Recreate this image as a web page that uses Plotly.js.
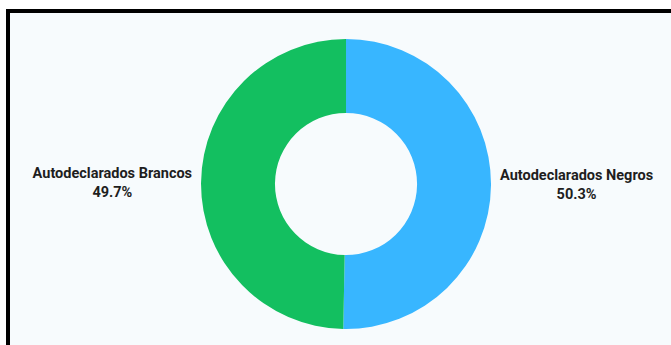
<!DOCTYPE html>
<html>
<head>
<meta charset="utf-8">
<script src="https://cdn.plot.ly/plotly-3.0.1.min.js"></script>
<style>
  html, body { margin: 0; padding: 0; background: #ffffff; width: 671px; height: 345px; overflow: hidden; }
  #frame { position: absolute; left: 6px; top: 9px; width: 665px; height: 336px;
           border-top: 4px solid #000; border-left: 4px solid #000; box-sizing: border-box;
           background: #f7fbfd; }
  #chart { position: absolute; left: 0; top: 0; width: 661px; height: 332px; }
</style>
</head>
<body>
<div id="frame"><div id="chart"></div></div>
<script>
const categories = ["Autodeclarados Negros", "Autodeclarados Brancos"];
const values = [50.3, 49.7];
const colors = ["#38b6ff", "#13bf60"];

const trace = {
  type: "pie",
  labels: categories,
  values: values,
  hole: 0.49,
  sort: false,
  direction: "clockwise",
  rotation: 0,
  marker: { colors: colors, line: { width: 0 } },
  textposition: "outside",
  texttemplate: "<b>%{label}</b><br><b>%{percent:.1%}</b>",
  textfont: { family: "Roboto, sans-serif", size: 14.5, color: "#1e1e1e" },
  outsidetextfont: { family: "Roboto, sans-serif", size: 14.5, color: "#1e1e1e" },
  hoverinfo: "none",
  automargin: false,
  domain: { x: [0.2890, 0.7277], y: [0.0482, 0.9217] }
};

const layout = {
  width: 661, height: 332,
  margin: { l: 0, r: 0, t: 0, b: 0 },
  paper_bgcolor: "#f7fbfd",
  plot_bgcolor: "#f7fbfd",
  showlegend: false
};

Plotly.newPlot("chart", [trace], layout, { displayModeBar: false, staticPlot: true });
</script>
</body>
</html>
